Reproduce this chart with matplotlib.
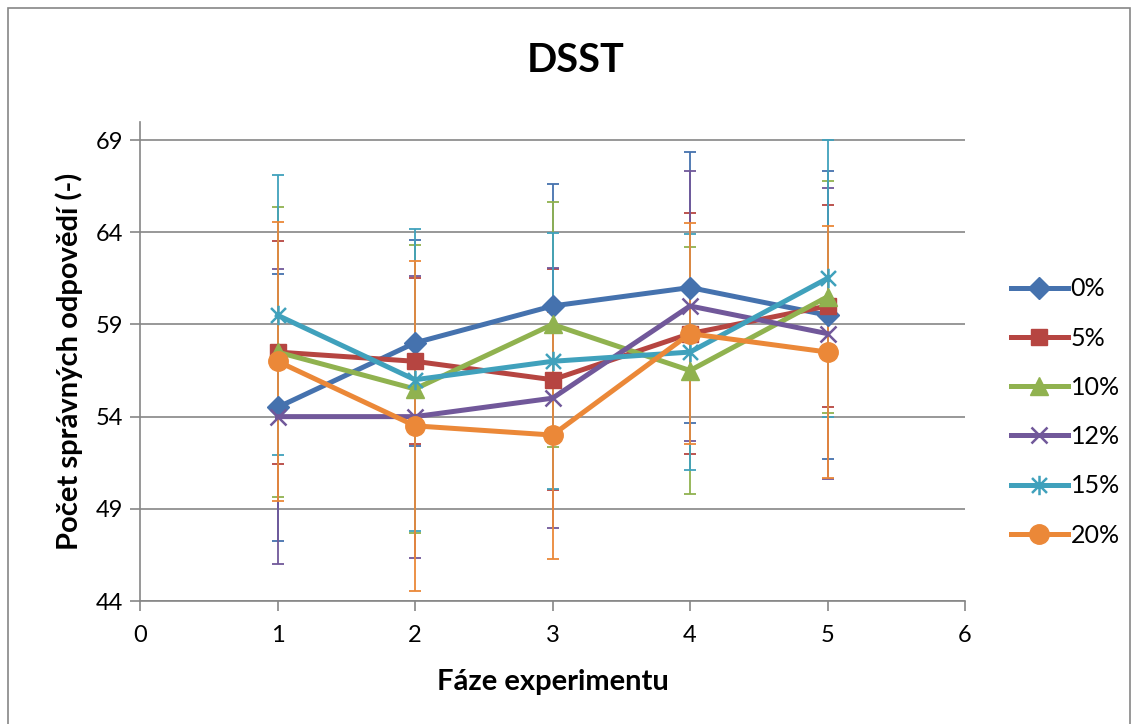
import numpy as np
import matplotlib
matplotlib.use("Agg")
import matplotlib.pyplot as plt
from matplotlib.path import Path
from matplotlib.patches import Rectangle

plt.rcParams['font.family'] = ['Lato', 'DejaVu Sans']

faze = [1, 2, 3, 4, 5]
skupiny = ['0%', '5%', '10%', '12%', '15%', '20%']

prum_0 = [54.5, 58.0, 60.0, 61.0, 59.5]
prum_5 = [57.5, 57.0, 56.0, 58.5, 60.0]
prum_10 = [57.5, 55.5, 59.0, 56.5, 60.5]
prum_12 = [54.0, 54.0, 55.0, 60.0, 58.5]
prum_15 = [59.5, 56.0, 57.0, 57.5, 61.5]
prum_20 = [57.0, 53.5, 53.0, 58.5, 57.5]

sd_0 = [7.25, 5.6, 6.6, 7.35, 7.8]
sd_5 = [6.05, 4.5, 6.0, 6.55, 5.5]
sd_10 = [7.85, 7.8, 6.65, 6.7, 6.3]
sd_12 = [8.0, 7.65, 7.05, 7.3, 7.9]
sd_15 = [7.6, 8.2, 6.95, 6.4, 7.5]
sd_20 = [7.55, 8.95, 6.7, 6.0, 6.85]

prumery = [prum_0, prum_5, prum_10, prum_12, prum_15, prum_20]
odchylky = [sd_0, sd_5, sd_10, sd_12, sd_15, sd_20]

barvy = ['#4572AE', '#B64541', '#90B24F', '#71589A', '#40A1BC', '#EB8838']

# hvezdicka: krizek + svisla cara
hvezda = Path([(-1, -1), (1, 1), (-1, 1), (1, -1), (0, -1.3), (0, 1.3)],
              [Path.MOVETO, Path.LINETO, Path.MOVETO, Path.LINETO, Path.MOVETO, Path.LINETO])
znacky = [dict(marker='D', ms=11),
          dict(marker='s', ms=11),
          dict(marker='^', ms=13),
          dict(marker='x', ms=12, mew=1.8),
          dict(marker=hvezda, ms=14, mew=1.8),
          dict(marker='o', ms=14)]

fig = plt.figure(figsize=(11.32, 7.24), dpi=100)
fig.patches.append(Rectangle((8 / 1132, -0.1), 1122 / 1132, 1.1 - 8 / 724,
                             transform=fig.transFigure, fill=False,
                             edgecolor='#868686', linewidth=1.2))

ax = fig.add_axes([140 / 1132, 123 / 724, 825 / 1132, 479.4 / 724])

cary = []
for prum, sd, barva, zn, nazev in zip(prumery, odchylky, barvy, znacky, skupiny):
    ax.errorbar(faze, prum, yerr=sd, fmt='none', ecolor=barva, elinewidth=1.3,
                capsize=4.5, capthick=1.3, zorder=2)
    car, = ax.plot(faze, prum, color=barva, lw=3.6, mec=barva, mfc=barva,
                   label=nazev, zorder=3, **zn)
    cary.append(car)

ax.set_xlim(0, 6)
ax.set_ylim(44, 70)
ax.set_xticks(range(0, 7))
ax.set_yticks(range(44, 70, 5))
ax.yaxis.grid(True, color='#868686', linewidth=1.2)
ax.set_axisbelow(True)

for s in ['top', 'right']:
    ax.spines[s].set_visible(False)
for s in ['left', 'bottom']:
    ax.spines[s].set_color('#868686')
    ax.spines[s].set_linewidth(1.2)
ax.tick_params(axis='both', colors='#868686', length=7, width=1.2,
               labelcolor='black', labelsize=17)
ax.tick_params(axis='x', pad=10)
ax.tick_params(axis='y', pad=5)

ax.set_xlabel('Fáze experimentu', fontsize=21, fontweight='bold', labelpad=17)
ax.set_ylabel('Počet správných odpovědí (-)', fontsize=21, fontweight='bold', labelpad=9)
fig.text(576 / 1132, 1 - 61 / 724, 'DSST', fontsize=28.5, fontweight='bold',
         ha='center', va='center')

fig.legend(handles=cary, loc='center left', bbox_to_anchor=(988 / 1132, 1 - 412 / 724),
           frameon=False, fontsize=18, handlelength=2.3, handletextpad=0.1,
           labelspacing=1.05, numpoints=1)

fig.savefig('out.png', dpi=100)
